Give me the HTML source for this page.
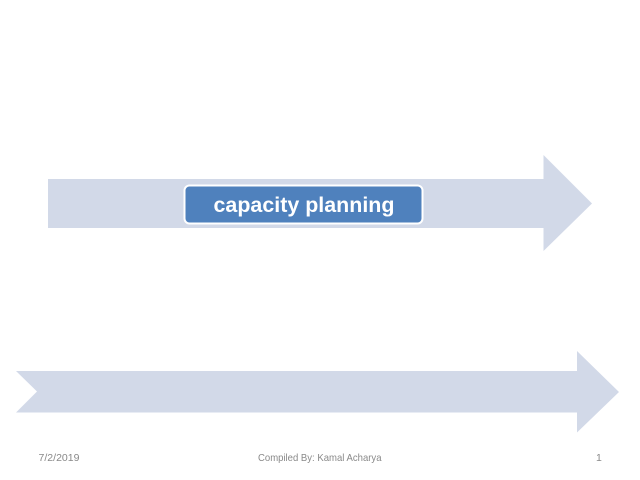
<!DOCTYPE html>
<html>
<head>
<meta charset="utf-8">
<style>
html,body{margin:0;padding:0;background:#fff;width:640px;height:480px;overflow:hidden}
svg{display:block}
text{font-family:"Liberation Sans",sans-serif}
</style>
</head>
<body>
<svg width="640" height="480" viewBox="0 0 640 480" xmlns="http://www.w3.org/2000/svg">
<rect width="640" height="480" fill="#fff"/>
<polygon points="48,179 543.5,179 543.5,155 592,203.5 543.5,251 543.5,228 48,228" fill="#d2d9e8"/>
<polygon points="16,371 577,371 577,351 619,392 577,432.5 577,412.5 16,412.5 37,391.5" fill="#d2d9e8"/>
<rect x="184.5" y="185.5" width="238" height="38" rx="5" ry="5" fill="#4f81bd" stroke="#fff" stroke-width="2"/>
<text x="213.5" y="212" font-size="21.5" font-weight="700" fill="#fff" textLength="181" lengthAdjust="spacingAndGlyphs">capacity planning</text>
<text x="38.5" y="461" font-size="10.5" fill="#898989" textLength="41" lengthAdjust="spacingAndGlyphs">7/2/2019</text>
<text x="258" y="461" font-size="10.5" fill="#898989" textLength="123.500" lengthAdjust="spacingAndGlyphs">Compiled By: Kamal Acharya</text>
<text x="596" y="461" font-size="10.5" fill="#898989">1</text>
</svg>
</body>
</html>
